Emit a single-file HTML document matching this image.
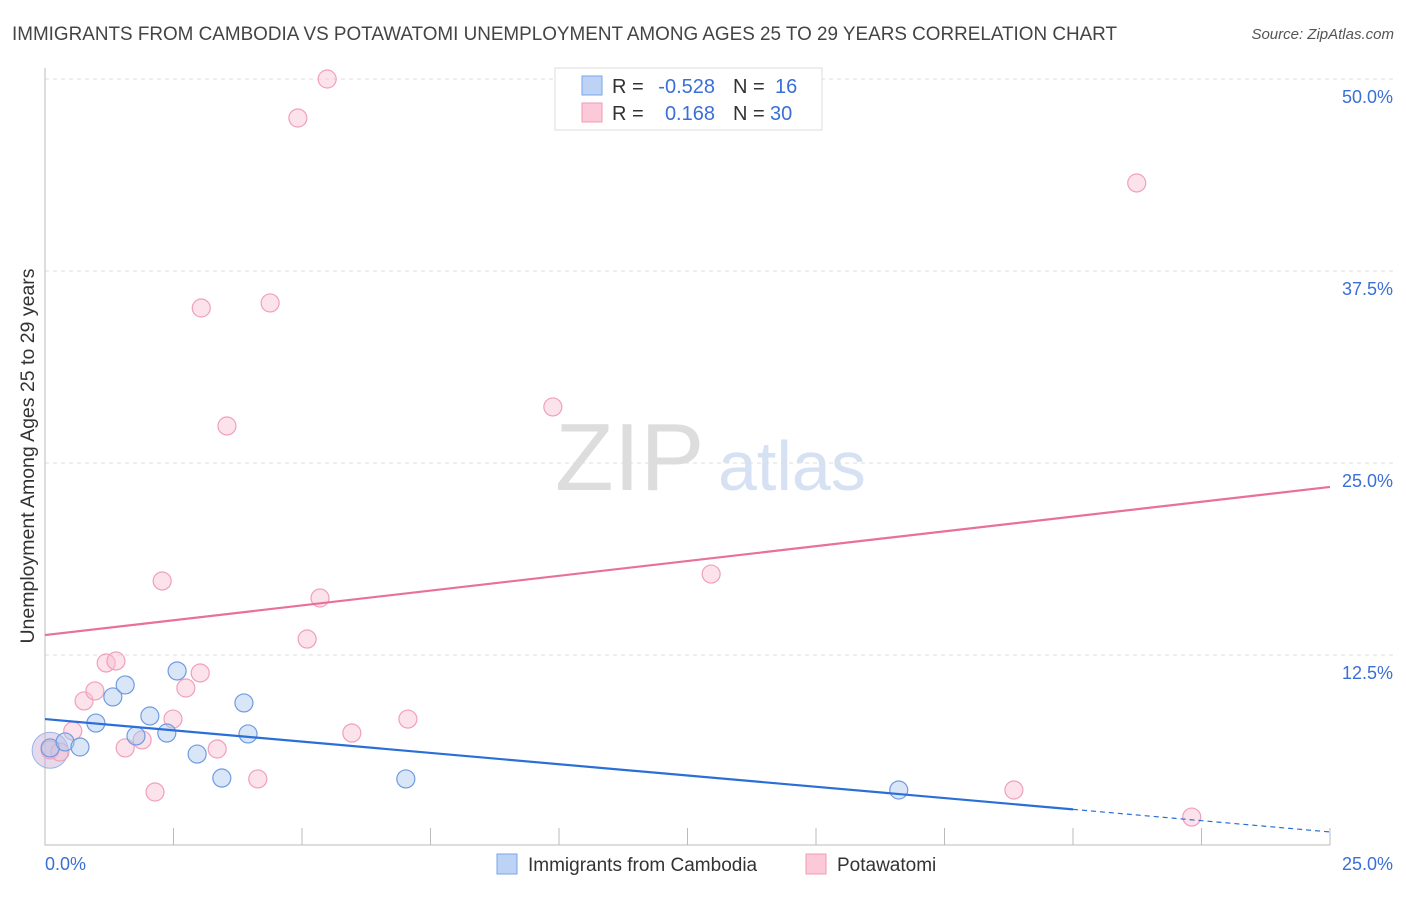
<!DOCTYPE html>
<html><head><meta charset="utf-8"><style>
body{margin:0;background:#fff;font-family:"Liberation Sans",sans-serif;}
svg text{font-family:"Liberation Sans",sans-serif;}
</style></head><body>
<svg id="c" width="1406" height="892">
<text x="12" y="40" font-size="19" fill="#444" textLength="1105" lengthAdjust="spacingAndGlyphs">IMMIGRANTS FROM CAMBODIA VS POTAWATOMI UNEMPLOYMENT AMONG AGES 25 TO 29 YEARS CORRELATION CHART</text>
<text x="1394" y="39" font-size="15" fill="#555" font-style="italic" text-anchor="end">Source: ZipAtlas.com</text>
<text x="555" y="490" font-size="96" fill="#ddd" font-family="Liberation Serif">ZIP</text>
<text x="718" y="490" font-size="70" fill="#d6e2f3">atlas</text>
<text transform="translate(34,456) rotate(-90)" font-size="19.5" fill="#333" text-anchor="middle">Unemployment Among Ages 25 to 29 years</text>
<g id="grid"></g><g id="pts"></g><g id="lines"></g>
<g>
<rect x="555" y="68" width="267" height="62" fill="#fff" stroke="#ddd"/>
<rect x="582" y="76" width="20" height="19" fill="#bcd3f5" stroke="#7aa6e6"/>
<rect x="582" y="103" width="20" height="19" fill="#fbc9d8" stroke="#f09ab5"/>
<text x="612" y="93" font-size="20" fill="#333">R =</text>
<text x="715" y="93" font-size="20" fill="#3a6fd8" text-anchor="end">-0.528</text>
<text x="733" y="93" font-size="20" fill="#333">N =</text>
<text x="775" y="93" font-size="20" fill="#3a6fd8">16</text>
<text x="612" y="120" font-size="20" fill="#333">R =</text>
<text x="715" y="120" font-size="20" fill="#3a6fd8" text-anchor="end">0.168</text>
<text x="733" y="120" font-size="20" fill="#333">N =</text>
<text x="770" y="120" font-size="20" fill="#3a6fd8">30</text>
</g>
<g>
<rect x="497" y="854" width="20" height="20" fill="#bcd3f5" stroke="#7aa6e6"/>
<text x="528" y="871" font-size="19" fill="#333">Immigrants from Cambodia</text>
<rect x="806" y="854" width="20" height="20" fill="#fbc9d8" stroke="#f09ab5"/>
<text x="837" y="871" font-size="19" fill="#333">Potawatomi</text>
</g>
</svg>
<script>
const blueX=[0.10,0.39,0.68,0.99,1.32,1.56,1.77,2.04,2.37,2.57,2.96,3.44,3.87,3.95,7.02,16.61];
const blueY=[6.45,6.84,6.51,8.07,9.77,10.55,7.23,8.53,7.42,11.46,6.05,4.49,9.38,7.36,4.43,3.71];
const pinkX=[0.10,0.29,0.54,0.76,0.97,1.19,1.38,1.56,1.89,2.14,2.28,2.49,2.74,3.02,3.04,3.35,3.54,4.14,4.38,4.92,5.10,5.35,5.49,5.97,7.06,9.88,12.96,18.85,21.24,22.31];
const pinkY=[6.32,6.18,7.55,9.51,10.16,11.98,12.11,6.45,6.97,3.58,17.32,8.33,10.35,11.33,35.09,6.38,27.41,4.43,35.42,47.46,13.54,16.21,50.0,7.42,8.33,28.65,17.77,3.71,43.23,1.95];
const yTicks=[12.5,25,37.5,50];
const xTicks=[0,2.5,5,7.5,10,12.5,15,17.5,20,22.5,25];
const blueTrend=[8.33,0.98];
const pinkTrend=[13.8,23.44];
const blueSolidEnd=20;
const NS="http://www.w3.org/2000/svg";
const X=v=>45+v/25*1285, Y=v=>847-v/12.5*192;
function mk(p,t,a){const e=document.createElementNS(NS,t);for(const k in a)e.setAttribute(k,a[k]);p.appendChild(e);return e;}
const grid=document.getElementById('grid'),pts=document.getElementById('pts'),lines=document.getElementById('lines');
yTicks.forEach(t=>{
const l=mk(grid,'line',{x1:45,x2:1394,y1:Y(t),y2:Y(t),stroke:'#ddd','stroke-dasharray':'4,4'});


const tx=mk(grid,'text',{x:1393,y:Y(t)+24,'font-size':18,fill:'#3a6fd8','text-anchor':'end'});
tx.textContent=t.toFixed(1)+'%';


});
const ax=mk(grid,'path',{d:'M45 68V845H1330',stroke:'#bbb',fill:'none'});


xTicks.forEach(t=>{
const l=mk(grid,'line',{x1:X(t),x2:X(t),y1:828,y2:845,stroke:'#bbb'});


});
const xl0=mk(grid,'text',{x:45,y:870,'font-size':18,fill:'#3a6fd8'});xl0.textContent=xTicks[0].toFixed(1)+'%';


const xl1=mk(grid,'text',{x:1393,y:870,'font-size':18,fill:'#3a6fd8','text-anchor':'end'});xl1.textContent=xTicks[xTicks.length-1].toFixed(1)+'%';


const big=mk(pts,'circle',{cx:X(0.1),cy:Y(6.3),r:18,fill:'rgba(200,170,210,0.45)',stroke:'#9ab5e8'});


pinkX.forEach((x,i)=>{const c=mk(pts,'circle',{cx:X(x),cy:Y(pinkY[i]),r:9,fill:'rgba(248,190,208,0.45)',stroke:'#f0a0ba','stroke-width':1.2});

});
blueX.forEach((x,i)=>{const c=mk(pts,'circle',{cx:X(x),cy:Y(blueY[i]),r:9,fill:'rgba(170,200,240,0.45)',stroke:'#6f9be0','stroke-width':1.2});

});
const bAt=x=>blueTrend[0]+(blueTrend[1]-blueTrend[0])*x/25;
const b1=mk(lines,'line',{x1:X(0),y1:Y(bAt(0)),x2:X(blueSolidEnd),y2:Y(bAt(blueSolidEnd)),stroke:'#2a6fd8','stroke-width':2.2});


const b2=mk(lines,'line',{x1:X(blueSolidEnd),y1:Y(bAt(blueSolidEnd)),x2:X(25),y2:Y(bAt(25)),stroke:'#2a6fd8','stroke-width':1.2,'stroke-dasharray':'5,4'});


const p1=mk(lines,'line',{x1:X(0),y1:Y(pinkTrend[0]),x2:X(25),y2:Y(pinkTrend[1]),stroke:'#e8709a','stroke-width':2.2});


</script>
</body></html>
